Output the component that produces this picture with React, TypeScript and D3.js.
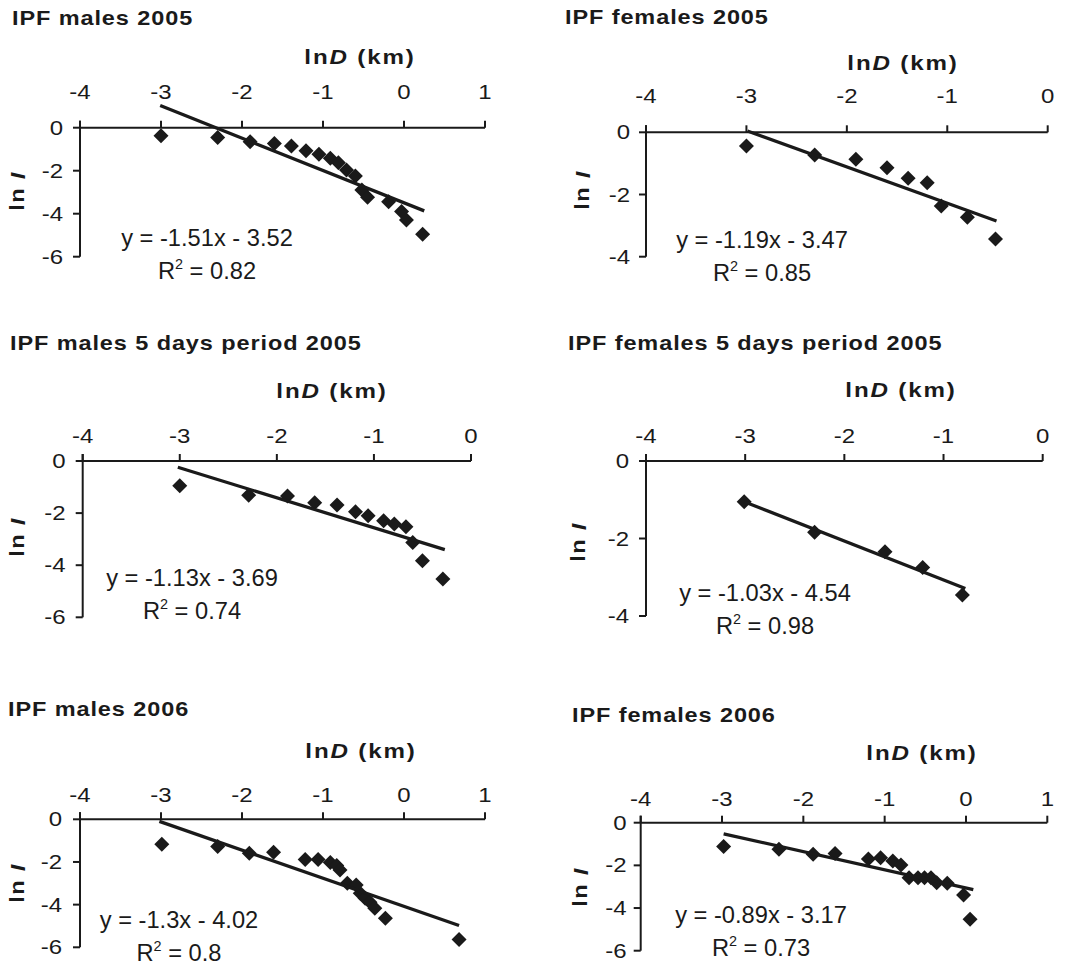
import React from "react";
import * as d3 from "d3";

// values (lnD, lnI)
const males05X = [-3.0, -2.3, -1.9, -1.6, -1.39, -1.21, -1.05, -0.91, -0.81, -0.71, -0.6, -0.52, -0.45, -0.19, -0.03, 0.03, 0.23];
const males05Y = [-0.38, -0.45, -0.65, -0.73, -0.85, -1.07, -1.24, -1.42, -1.63, -1.97, -2.25, -2.9, -3.24, -3.44, -3.9, -4.29, -4.96];
const females05X = [-3.0, -2.32, -1.91, -1.6, -1.39, -1.2, -1.06, -0.8, -0.52];
const females05Y = [-0.44, -0.73, -0.87, -1.14, -1.48, -1.62, -2.37, -2.73, -3.43];
const males5dX = [-3.0, -2.29, -1.89, -1.61, -1.38, -1.19, -1.06, -0.9, -0.79, -0.67, -0.6, -0.5, -0.29];
const males5dY = [-0.95, -1.31, -1.34, -1.6, -1.69, -1.95, -2.1, -2.29, -2.42, -2.52, -3.13, -3.83, -4.53];
const females5dX = [-3.01, -2.3, -1.59, -1.21, -0.81];
const females5dY = [-1.05, -1.84, -2.34, -2.75, -3.46];
const males06X = [-2.99, -2.3, -1.91, -1.61, -1.22, -1.06, -0.91, -0.83, -0.79, -0.7, -0.59, -0.54, -0.48, -0.42, -0.36, -0.23, 0.68];
const males06Y = [-1.17, -1.28, -1.59, -1.55, -1.88, -1.88, -2.02, -2.17, -2.38, -3.0, -3.08, -3.47, -3.7, -3.89, -4.17, -4.64, -5.63];
const females06X = [-2.98, -2.3, -1.88, -1.61, -1.2, -1.05, -0.9, -0.8, -0.7, -0.59, -0.51, -0.43, -0.36, -0.23, -0.03, 0.05];
const females06Y = [-1.12, -1.25, -1.48, -1.44, -1.7, -1.64, -1.8, -1.98, -2.58, -2.58, -2.58, -2.58, -2.81, -2.84, -3.39, -4.53];

const titles = [
  "IPF males 2005",
  "IPF females 2005",
  "IPF males 5 days period 2005",
  "IPF females 5 days period 2005",
  "IPF males 2006",
  "IPF females 2006",
];
const fitSlope = [-1.51, -1.19, -1.13, -1.03, -1.3, -0.89];
const fitIntercept = [-3.52, -3.47, -3.69, -4.54, -4.02, -3.17];
const fitR2 = ["0.82", "0.85", "0.74", "0.98", "0.8", "0.73"];
// trend line ends as drawn in the picture
const lineX0 = [-3.01, -2.99, -3.02, -3.01, -3.02, -2.98];
const lineY0 = [1.03, 0.04, -0.24, -1.05, -0.1, -0.52];
const lineX1 = [0.25, -0.51, -0.27, -0.78, 0.68, 0.09];
const lineY1 = [-3.87, -2.85, -3.4, -3.29, -4.98, -3.14];

const xTicksTo1 = [-4, -3, -2, -1, 0, 1];
const xTicksTo0 = [-4, -3, -2, -1, 0];
const yTicksTo6 = [0, -2, -4, -6];
const yTicksTo4 = [0, -2, -4];

const seriesX = [males05X, females05X, males5dX, females5dX, males06X, females06X];
const seriesY = [males05Y, females05Y, males5dY, females5dY, males06Y, females06Y];

// layout of each panel in page pixels
const layout = [
  { x0: 80, x1: 485, y0: 127.7, y1: 256.7, xt: xTicksTo1, yt: yTicksTo6, tx: 12, ty: 25, ax: 360, ay: 64, lab: 36, ylx: 17, eqx: 207, eqy: 246, lx: 17, ly: 191 },
  { x0: 646, x1: 1047.7, y0: 132.3, y1: 256.7, xt: xTicksTo0, yt: yTicksTo4, tx: 565, ty: 24, ax: 903, ay: 70, lab: 36, ylx: 16, eqx: 762, eqy: 248, lx: 582, ly: 190 },
  { x0: 82.7, x1: 471, y0: 461, y1: 617.3, xt: xTicksTo0, yt: yTicksTo6, tx: 10, ty: 350, ax: 332, ay: 398, lab: 25, ylx: 17, eqx: 192, eqy: 586, lx: 17, ly: 537 },
  { x0: 646, x1: 1042.7, y0: 461, y1: 616, xt: xTicksTo0, yt: yTicksTo4, tx: 568, ty: 350, ax: 901, ay: 397, lab: 25, ylx: 17, eqx: 765, eqy: 601, lx: 578, ly: 542 },
  { x0: 80, x1: 485, y0: 819.3, y1: 947.3, xt: xTicksTo1, yt: yTicksTo6, tx: 8, ty: 716, ax: 361, ay: 758, lab: 24, ylx: 18, eqx: 179, eqy: 928, lx: 17, ly: 883 },
  { x0: 640.7, x1: 1047.3, y0: 822.7, y1: 950.7, xt: xTicksTo1, yt: yTicksTo6, tx: 572, ty: 722, ax: 922, ay: 760, lab: 24, ylx: 14, eqx: 761, eqy: 923, lx: 580, ly: 887 },
];

const INK = "#1a1a1a";
const FONT = "'Liberation Sans', Arial, sans-serif";

// text drawn slightly wider than the font, as in the scanned figure
const ST = ({ x, y, sx, rot = 0, children, ...rest }: any) => (
  <g transform={`translate(${x},${y}) rotate(${rot}) scale(${sx},1)`}>
    <text x={0} y={0} {...rest}>
      {children}
    </text>
  </g>
);

const Panel = ({ i }: { i: number }) => {
  const L = layout[i];
  const xs = L.xt;
  const ys = L.yt;
  const x = d3.scaleLinear().domain([xs[0], xs[xs.length - 1]]).range([L.x0, L.x1]);
  const y = d3.scaleLinear().domain([0, ys[ys.length - 1]]).range([L.y0, L.y1]);
  const r = 7.5;
  const trend = d3
    .line<[number, number]>()
    .x((d) => x(d[0]))
    .y((d) => y(d[1]));
  const eq = `y = ${fitSlope[i]}x - ${Math.abs(fitIntercept[i])}`;

  return (
    <g fontFamily={FONT} fill={INK}>
      <ST x={L.tx} y={L.ty} sx={1.12} fontSize={21} fontWeight="bold" letterSpacing={0.8}>
        {titles[i]}
      </ST>
      <ST x={L.ax} y={L.ay} sx={1.15} fontSize={21} fontWeight="bold" letterSpacing={1.6} textAnchor="middle">
        ln<tspan fontStyle="italic">D</tspan> (km)
      </ST>
      <ST
        x={L.lx}
        y={L.ly}
        rot={-90}
        sx={1.12}
        fontSize={21}
        fontWeight="bold"
        letterSpacing={1.2}
        textAnchor="middle"
        dominantBaseline="central"
      >
        ln <tspan fontStyle="italic">I</tspan>
      </ST>

      {/* axes */}
      <line x1={x(xs[0])} x2={x(xs[xs.length - 1])} y1={y(0)} y2={y(0)} stroke={INK} strokeWidth={2} />
      <line x1={x(xs[0])} x2={x(xs[0])} y1={y(0) - 7} y2={y(ys[ys.length - 1])} stroke={INK} strokeWidth={2} />
      {xs.map((t) => (
        <g key={"x" + t}>
          <line x1={x(t)} x2={x(t)} y1={y(0)} y2={y(0) - 7} stroke={INK} strokeWidth={2} />
          <ST x={x(t)} y={y(0) - L.lab + 7} sx={1.2} fontSize={20} textAnchor="middle">
            {t}
          </ST>
        </g>
      ))}
      {ys.map((t) => (
        <g key={"y" + t}>
          <line x1={x(xs[0]) - 7} x2={x(xs[0])} y1={y(t)} y2={y(t)} stroke={INK} strokeWidth={2} />
          <ST x={x(xs[0]) - L.ylx} y={y(t) + 7} sx={1.2} fontSize={20} textAnchor="end">
            {t}
          </ST>
        </g>
      ))}

      {/* points */}
      {seriesX[i].map((v, k) => {
        const cx = x(v);
        const cy = y(seriesY[i][k]);
        return (
          <polygon
            key={k}
            points={`${cx},${cy - r} ${cx + r},${cy} ${cx},${cy + r} ${cx - r},${cy}`}
            fill={INK}
          />
        );
      })}

      {/* trend line */}
      <path
        d={trend([[lineX0[i], lineY0[i]], [lineX1[i], lineY1[i]]]) || ""}
        stroke={INK}
        strokeWidth={3.3}
        fill="none"
      />

      <ST x={L.eqx} y={L.eqy} sx={1.03} fontSize={23} textAnchor="middle">
        {eq}
      </ST>
      <ST x={L.eqx} y={L.eqy + 33} sx={1.03} fontSize={23} textAnchor="middle">
        R<tspan fontSize={14} dy={-10}>2</tspan>
        <tspan dy={10}> = {fitR2[i]}</tspan>
      </ST>
    </g>
  );
};

export default function App() {
  return (
    <div style={{ position: "absolute", left: 0, top: 0 }}>
      <svg width={1081} height={965} style={{ display: "block", background: "#fff" }}>
        {titles.map((_, i) => (
          <Panel key={i} i={i} />
        ))}
      </svg>
    </div>
  );
}
